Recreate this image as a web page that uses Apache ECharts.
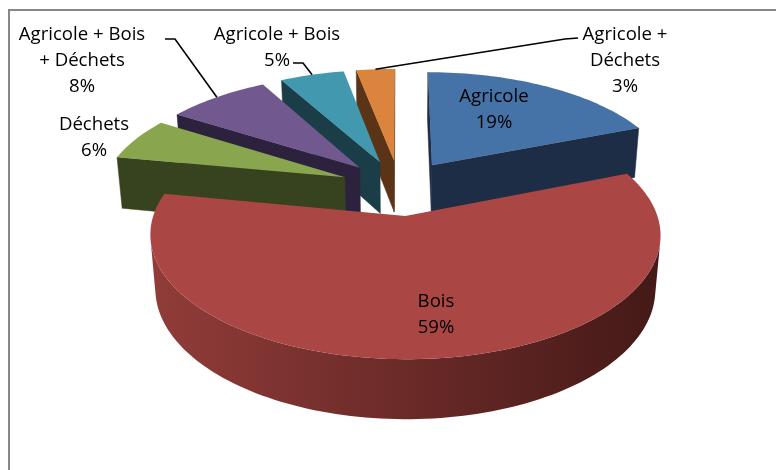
<!DOCTYPE html>
<html>
<head>
<meta charset="utf-8">
<script src="https://cdn.jsdelivr.net/npm/echarts@6/dist/echarts.min.js"></script>
<style>
  html, body { margin: 0; padding: 0; background: #fff; }
  #chart { width: 776px; height: 470px; }
</style>
</head>
<body>
<div id="chart"></div>
<script>
// Slice categories (line breaks are the wrapped label text) and their shares in %
const categories = ['Agricole', 'Bois', 'Déchets', 'Agricole + Bois\n+ Déchets', 'Agricole + Bois', 'Agricole +\nDéchets'];
const shares = [19, 59, 6, 8, 5, 3];

// Colours: top face, radial side faces, curved outer wall (light -> dark)
const topColors = ['#4572A7', '#AA4643', '#89A54E', '#71588F', '#4198AF', '#DB843D'];
const sideColors = ['#1E2D46', '#5A2220', '#37431E', '#2C223E', '#1A3D47', '#5B3418'];
const wallColors = [
  ['#2C4266', '#17233A'],
  ['#913C39', '#441917'],
  ['#4A5A2A', '#2C3618'],
  ['#3D3055', '#231B31'],
  ['#26586A', '#14303A'],
  ['#7A4620', '#462810']
];

// Label placement (block centres) and leader-line bends for outside labels
const labelLayout = [
  { at: [494, 110] },
  { at: [436, 315] },
  { at: [94, 138] },
  { at: [82, 61], leader: [[165, 39], [175, 39]] },
  { at: [277, 48], leader: [[293, 63], [303, 63]] },
  { at: [625, 61], leader: [[578, 38], [565, 39]] }
];

// 3-D view of the pie: unit radius disc seen in perspective
const view = {
  cx: 399.5, cy: 187.4, focal: 1458, dist: 6,
  sinT: 0.464, cosT: 0.886,
  explode: 0.245, depth: 0.248
};

const total = shares.reduce((a, b) => a + b, 0);
const startAngles = [];
{
  let acc = 0;
  shares.forEach(v => { startAngles.push(acc / total * 2 * Math.PI); acc += v; });
}

// world (x, z, h) -> screen; angle measured clockwise from the far side
function project(x, z, h) {
  const v = -z * view.sinT + h * view.cosT;
  const w = view.dist - z * view.cosT - h * view.sinT;
  return [view.cx + view.focal * x / w, view.cy - view.focal * v / w];
}

function signedArea(pts) {
  let s = 0;
  for (let i = 0; i < pts.length; i++) {
    const a = pts[i], b = pts[(i + 1) % pts.length];
    s += a[0] * b[1] - b[0] * a[1];
  }
  return s;
}

// draw order: far slices first
const sliceDepth = shares.map((v, i) => {
  const mid = startAngles[i] + v / total * Math.PI;
  return -Math.cos(mid);
});
const drawRank = sliceDepth.map((d, i) => sliceDepth.filter(o => o < d).length);

function renderSlice(params, api) {
  const i = params.dataIndex;
  const value = api.value(0);
  const a0 = startAngles[i];
  const a1 = a0 + value / total * 2 * Math.PI;
  const mid = (a0 + a1) / 2;
  const ox = view.explode * Math.sin(mid);
  const oz = -view.explode * Math.cos(mid);
  const H = -view.depth;

  const rim = (t, h) => project(ox + Math.sin(t), oz - Math.cos(t), h);
  const apexTop = project(ox, oz, 0);
  const apexBot = project(ox, oz, H);

  const steps = Math.max(4, Math.ceil((a1 - a0) / (Math.PI / 120)));
  const angles = [];
  for (let k = 0; k <= steps; k++) angles.push(a0 + (a1 - a0) * k / steps);

  const base = drawRank[i] * 100;
  const children = [];

  // radial faces
  const face0 = [apexTop, apexBot, rim(a0, H), rim(a0, 0)];
  const face1 = [apexTop, rim(a1, 0), rim(a1, H), apexBot];
  [face0, face1].forEach((pts, k) => {
    if (signedArea(pts) > 0) {
      children.push({ type: 'polygon', z2: base + 1 + k,
        shape: { points: pts },
        style: { fill: sideColors[i], stroke: sideColors[i], lineWidth: 0.5 } });
    }
  });

  // curved outer wall, visible runs only
  let run = [];
  const flush = () => {
    if (run.length > 1) {
      const pts = run.map(t => rim(t, 0)).concat(run.slice().reverse().map(t => rim(t, H)));
      children.push({ type: 'polygon', z2: base + 3,
        shape: { points: pts },
        style: {
          fill: new echarts.graphic.LinearGradient(0, 0, 1, 0, [
            { offset: 0, color: wallColors[i][0] },
            { offset: 1, color: wallColors[i][1] }
          ])
        } });
    }
    run = [];
  };
  for (let k = 0; k < steps; k++) {
    const t0 = angles[k], t1 = angles[k + 1];
    const quad = [rim(t0, 0), rim(t0, H), rim(t1, H), rim(t1, 0)];
    if (signedArea(quad) > 0) {
      if (!run.length) run.push(t0);
      run.push(t1);
    } else {
      flush();
    }
  }
  flush();

  // top face
  const topPts = [apexTop].concat(angles.map(t => rim(t, 0)));
  children.push({ type: 'polygon', z2: base + 5,
    shape: { points: topPts },
    style: { fill: topColors[i] } });

  // data label
  const lay = labelLayout[i];
  const pct = Math.round(value / total * 100) + '%';
  children.push({ type: 'text', z2: 10000, x: lay.at[0], y: lay.at[1],
    style: {
      text: categories[i] + '\n' + pct,
      fontFamily: 'Open Sans', fontSize: 18.6, lineHeight: 26,
      fill: '#000', align: 'center', verticalAlign: 'middle'
    } });

  if (lay.leader) {
    const end = rim(mid, 0);
    children.push({ type: 'polyline', z2: 10000,
      shape: { points: lay.leader.concat([end]) },
      style: { stroke: '#000', lineWidth: 1.6, fill: null } });
  }

  return { type: 'group', children };
}

const chart = echarts.init(document.getElementById('chart'), null, { renderer: 'canvas' });
chart.setOption({
  backgroundColor: '#fff',
  animation: false,
  graphic: [{
    type: 'rect', z: -1,
    shape: { x: 9, y: 10, width: 820, height: 520 },
    style: { fill: null, stroke: '#878787', lineWidth: 2 }
  }],
  series: [{
    type: 'custom',
    coordinateSystem: 'none',
    data: shares.map((v, i) => ({ name: categories[i], value: [v] })),
    renderItem: renderSlice
  }]
});
</script>
</body>
</html>
